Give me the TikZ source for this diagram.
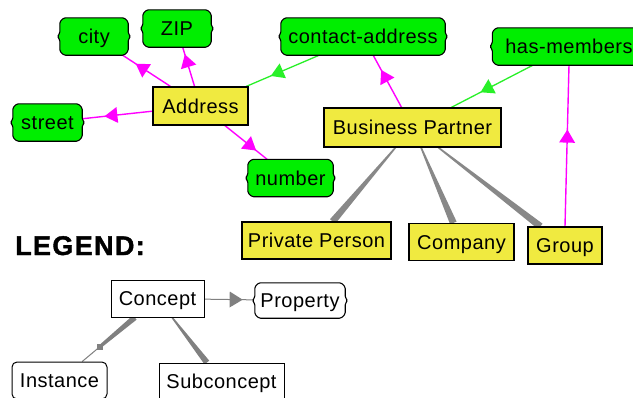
\documentclass[tikz,border=0pt]{standalone}
\usepackage{fontspec}
\setmainfont{Liberation Sans}
\newfontfamily\nodefamily{Liberation Sans}[LetterSpace=2.5]
\newfontfamily\legendfamily{Liberation Sans}[LetterSpace=5, FakeBold=1.5]
\usetikzlibrary{calc,decorations.markings}

\definecolor{cyellow}{RGB}{240,234,64}
\definecolor{cgreen}{RGB}{0,238,0}
\definecolor{lgreen}{RGB}{40,240,40}
\definecolor{cmagenta}{RGB}{255,0,255}
\definecolor{wgray}{RGB}{136,136,136}
\definecolor{lgray}{RGB}{128,128,128}

\pgfdeclarelayer{edges}
\pgfdeclarelayer{shapes}
\pgfsetlayers{edges,shapes,main}

\tikzset{
  nodetext/.style={font=\nodefamily\fontsize{20}{22}\selectfont,
    text height=16pt, text depth=2pt, inner sep=0pt, minimum height=37pt},
  concept/.style={nodetext, draw=black, line width=1.1pt, fill=cyellow},
  prop/.style={nodetext},
  legendbox/.style={nodetext, draw=black, line width=1pt, fill=white},
  mline/.style={color=cmagenta, line width=1.4pt},
  gline/.style={color=lgreen, line width=1.3pt},
  thinline/.style={color=lgray, line width=1pt},
  midarrow/.style={postaction={decorate, decoration={markings,
    mark=at position #1 with {\fill (0pt,8pt) -- (13pt,0pt) -- (0pt,-8pt) -- cycle;}}}},
  midarrow/.default=0.5,
}

% outline of a property tag: flat top and bottom, brace-like ends
\newcommand\tagshape[2]{%
  \filldraw[fill=#2, draw=black, line width=1.1pt, line join=round, rounded corners=1.5pt]
    ([xshift=4pt]#1.north west) -- ([xshift=-4pt]#1.north east)
    -- ([yshift=-4pt]#1.north east) -- ([yshift=3pt]#1.east)
    -- ([xshift=2.5pt]#1.east) -- ([yshift=-3pt]#1.east)
    -- ([yshift=4pt]#1.south east) -- ([xshift=-4pt]#1.south east)
    -- ([xshift=4pt]#1.south west) -- ([yshift=4pt]#1.south west)
    -- ([yshift=-3pt]#1.west) -- ([xshift=-2.5pt]#1.west)
    -- ([yshift=3pt]#1.west) -- ([yshift=-4pt]#1.north west) -- cycle;}

% tapered bar between two points, half widths at each end
\newcommand\wedgefill[5]{%
  \fill[#5] ($(#1)!#3!90:(#2)$) -- ($(#2)!#4!-90:(#1)$)
    -- ($(#2)!#4!90:(#1)$) -- ($(#1)!#3!-90:(#2)$) -- cycle;}

% tapered subconcept link between two nodes
\newcommand\taper[5]{%
  \path (#1) -- (#2) coordinate[pos=0] (tp-s) coordinate[pos=1] (tp-e);
  \wedgefill{tp-s}{tp-e}{#3}{#4}{#5}}

\begin{document}
\begin{tikzpicture}[x=1pt,y=-1pt]
\useasboundingbox (0,0) rectangle (633,397);

% ontology nodes
\node[prop, minimum width=68pt]  (city)     at (94,36.5)    {city};
\node[prop, minimum width=68pt]  (zip)      at (177,28.5)   {ZIP};
\node[prop, minimum width=164pt] (contact)  at (363,36.5)   {contact-address};
\node[prop, minimum width=153pt] (members)  at (569,46.5)   {has-members};
\node[prop, minimum width=69pt]  (street)   at (47.5,122.5) {street};
\node[concept, minimum width=95pt, minimum height=38pt] (address) at (200.5,106) {Address};
\node[prop, minimum width=85pt]  (number)   at (290.5,178)  {number};
\node[concept, minimum width=177pt, minimum height=39pt] (bp) at (412.5,127.5) {Business Partner};
\node[concept, minimum width=149pt] (pperson) at (316.5,240.5) {Private Person};
\node[concept, minimum width=105pt] (company) at (461.5,242)   {Company};
\node[concept, minimum width=74pt]  (group)   at (565,245.5)   {Group};

% legend
\node[anchor=base west, inner sep=0pt,
      font=\legendfamily\bfseries\fontsize{27}{30}\selectfont] (legend) at (15,255) {LEGEND:};
\node[legendbox, minimum width=93pt] (concept) at (157.5,298.5) {Concept};
\node[prop, minimum width=90pt, minimum height=35pt] (property) at (300,300.5) {Property};
\node[legendbox, rounded corners=5pt, minimum width=95pt] (instance) at (59.5,380.5) {Instance};
\node[legendbox, minimum width=125pt] (subconcept) at (221.5,381.5) {Subconcept};

\begin{pgfonlayer}{shapes}
  \tagshape{city}{cgreen}
  \tagshape{zip}{cgreen}
  \tagshape{contact}{cgreen}
  \tagshape{members}{cgreen}
  \tagshape{street}{cgreen}
  \tagshape{number}{cgreen}
  \tagshape{property}{white}
\end{pgfonlayer}

\begin{pgfonlayer}{edges}
  \fill[white] (0,0) rectangle (633,397);
  % properties
  \draw[mline, midarrow] (address) -- (city);
  \draw[mline, midarrow] (address) -- (zip);
  \draw[mline, midarrow] (address) -- (street);
  \draw[mline, midarrow] (address) -- (number);
  \draw[gline, midarrow] (contact) -- (address);
  \draw[mline, midarrow] (bp) -- (contact);
  \draw[gline, midarrow] (members) -- (bp);
  \draw[mline, midarrow=0.52] (group.north) -- (members.south);
  % subconcepts
  \taper{bp}{pperson}{0.8pt}{3.5pt}{wgray}
  \taper{bp}{company}{0.8pt}{3.5pt}{wgray}
  \taper{bp}{group}{0.8pt}{3.5pt}{wgray}
  % legend links
  \draw[thinline, midarrow] (concept) -- (property);
  \taper{concept}{subconcept}{0.8pt}{3pt}{lgray}
  \path (concept) -- (instance) coordinate[pos=0] (in-s)
    coordinate[pos=0.67] (in-m) coordinate[pos=1] (in-e);
  \wedgefill{in-s}{in-m}{2.8pt}{1.6pt}{lgray}
  \draw[thinline] (in-m) -- (in-e);
  \fill[lgray] ($(in-m)+(-3pt,-3pt)$) rectangle ($(in-m)+(3pt,3pt)$);
\end{pgfonlayer}
\end{tikzpicture}
\end{document}
